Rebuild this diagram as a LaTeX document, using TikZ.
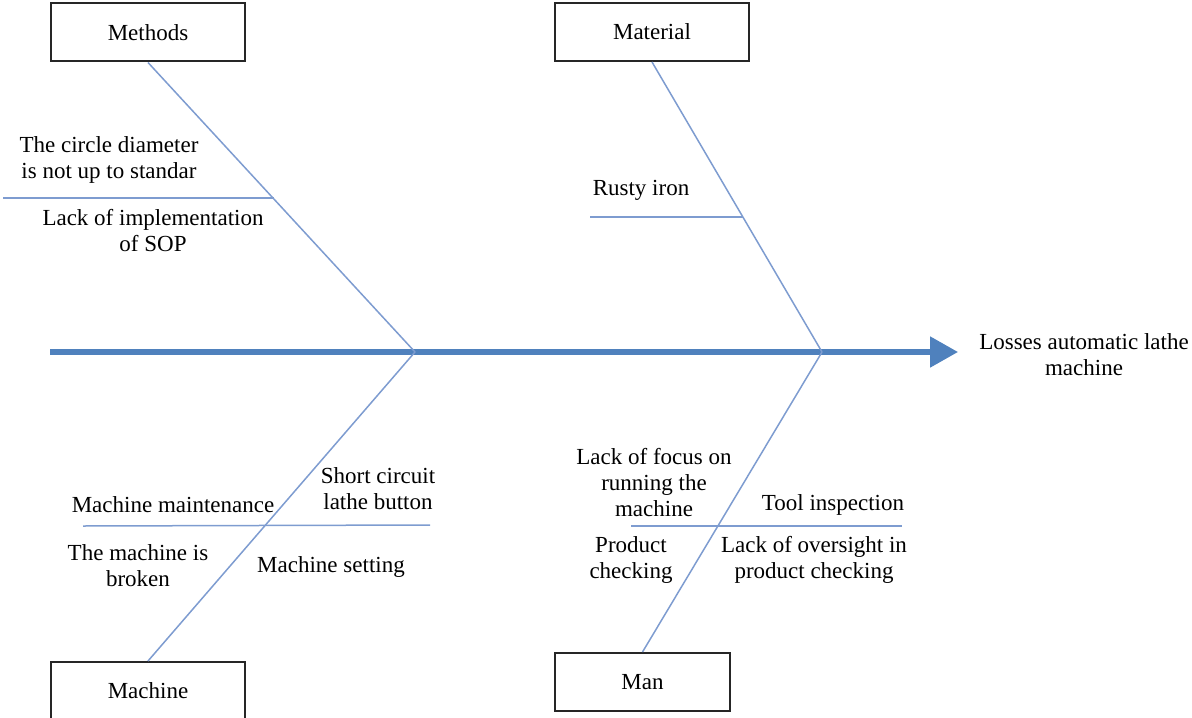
\documentclass[tikz,border=0pt]{standalone}
\usepackage{fontspec}
\setmainfont{Liberation Serif}
\newfontfamily\timesfont{Liberation Serif}
\usepackage{tikz}
\usetikzlibrary{arrows.meta}

\definecolor{spineblue}{RGB}{79,129,189}
\definecolor{bonegray}{RGB}{126,156,208}

\tikzset{
  catbox/.style={draw=black!85, line width=1pt, fill=white, minimum width=97pt, minimum height=29pt, inner sep=0pt},
  cause/.style={align=center, inner sep=0pt},
  bone/.style={draw=bonegray, line width=0.75pt},
  spine/.style={draw=spineblue, line width=2.6pt}
}

\begin{document}
\begin{tikzpicture}[x=0.5pt, y=-0.5pt, every node/.style={font=\timesfont\fontsize{11.5}{13}\selectfont}]
   \useasboundingbox (0,0) rectangle (1192,717);

   % joints on the spine
   \coordinate (jleft) at (415,352);
   \coordinate (jright) at (822,352);
   \coordinate (tail) at (50,352);
   \coordinate (head) at (958,352);

   % main arrow
   \draw[spine, -{Triangle[length=14pt, width=15pt]}] (tail) -- (head);
   \node[cause] (effect) at (1084,355) {Losses automatic lathe\\machine};

   % category boxes
   \node[catbox] (methods) at (148,32.5) {Methods};
   \node[catbox] (material) at (652,32) {Material};
   \node[catbox] (machine) at (148,691) {Machine};
   \node[catbox, minimum width=87.5pt] (man) at (642.5,682) {Man};

   % bones
   \draw[bone] (methods.south) -- (jleft);
   \draw[bone] (material.south) -- (jright);
   \draw[bone] (machine.north) -- (jleft);
   \draw[bone] (man.north) -- (jright);

   % sub-branches
   \coordinate (sm1) at (3,198);
   \coordinate (sm2) at (274,198);
   \draw[bone] (sm1) -- (sm2);
   \coordinate (st1) at (590,217);
   \coordinate (st2) at (743,217);
   \draw[bone] (st1) -- (st2);
   \coordinate (sc1) at (83,526);
   \coordinate (sc2) at (430,525);
   \draw[bone] (sc1) -- (sc2);
   \coordinate (sn1) at (631,526);
   \coordinate (sn2) at (902,526);
   \draw[bone] (sn1) -- (sn2);

   % causes
   \node[cause] (diam) at (109,160) {The circle diameter\\is not up to standar};
   \node[cause] (sop) at (153,231) {Lack of implementation\\of SOP};
   \node[cause] (rusty) at (641,190) {Rusty iron};
   \node[cause] (maint) at (173,505) {Machine maintenance};
   \node[cause] (short) at (378,489) {Short circuit\\lathe button};
   \node[cause] (broken) at (138,566) {The machine is\\broken};
   \node[cause] (setting) at (331,567) {Machine setting};
   \node[cause] (focus) at (654,483) {Lack of focus on\\running the\\machine};
   \node[cause] (tool) at (833,505) {Tool inspection};
   \node[cause] (prod) at (631,560) {Product\\checking};
   \node[cause] (oversight) at (814,560) {Lack of oversight in\\product checking};
\end{tikzpicture}
\end{document}
